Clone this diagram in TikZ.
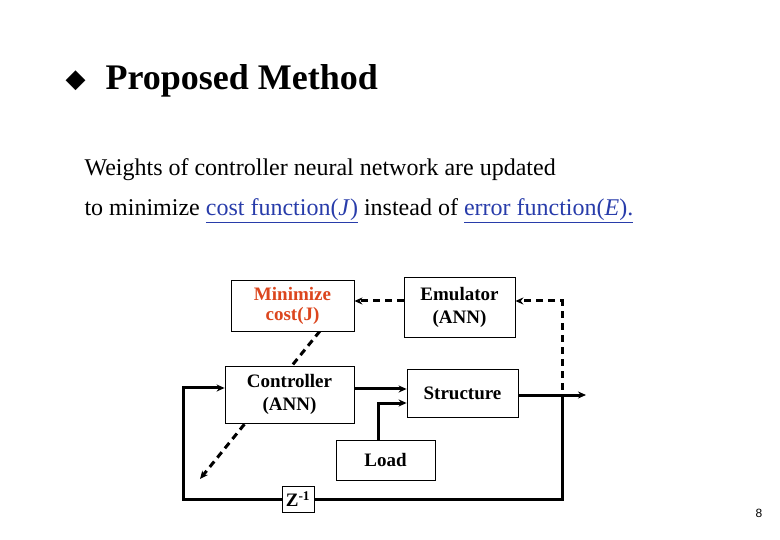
\documentclass[tikz,border=0pt]{standalone}
\usepackage{fontspec}
\setmainfont{Liberation Serif}
\newfontfamily\djv{DejaVu Sans}
\newfontfamily\lsans{Liberation Sans}
\usetikzlibrary{arrows.meta}
\definecolor{lnk}{RGB}{40,60,170}
\definecolor{org}{RGB}{220,70,30}
\begin{document}
\begin{tikzpicture}[x=1pt,y=-1pt,
  blk/.style={draw,line width=0.8pt,fill=white,font=\bfseries\fontsize{19}{20}\selectfont,align=center,inner sep=0pt},
  sig/.style={line width=3pt,-{Stealth[length=8pt,width=7pt]}},
  dsig/.style={line width=3pt,dash pattern=on 7pt off 5pt,-{Stealth[length=8pt,width=7pt]}},
  txt/.style={anchor=west,font=\fontsize{24}{26}\selectfont}]
\useasboundingbox (0,0) rectangle (780,540);
\node[anchor=west,font=\djv\fontsize{26}{28}\selectfont] (dia) at (62,81) {◆};
\node[anchor=west,font=\bfseries\fontsize{36}{38}\selectfont] (ttl) at (102,81) {Proposed Method};
\node[txt] (l1) at (81,170) {Weights of controller neural network are updated};
\node[txt] (l2) at (81,211) {to minimize \textcolor{lnk}{\underline{cost function(\textit{J})}} instead of \textcolor{lnk}{\underline{error function(\textit{E}).}}};
\coordinate (dstart) at (320,331);
\coordinate (dend) at (200,479);
\draw[dsig] (dstart) -- (dend);
\node[blk,minimum width=123pt,minimum height=51pt,text=org] (min) at (292.5,305.5) {Minimize\\cost(J)};
\node[blk,minimum width=111pt,minimum height=60pt] (emu) at (459.5,307) {Emulator\\[3pt](ANN)};
\node[blk,minimum width=129pt,minimum height=57pt] (ctl) at (289.5,394.5) {Controller\\[3pt](ANN)};
\node[blk,minimum width=111pt,minimum height=48pt] (str) at (462.5,393) {Structure};
\node[blk,minimum width=99pt,minimum height=40pt] (load) at (385.5,460) {Load};
\node[blk,minimum width=32pt,minimum height=26pt] (z) at (298,499) {Z\textsuperscript{-1}};
\coordinate (out) at (586,395);
\coordinate (br) at (562,395);
\draw[sig] (str.east |- out) -- (out);
\draw[line width=3pt] (br) -- (562,499) -- (z.east |- 0,499);
\draw[sig] (z.west |- 0,499) -- (183,499) -- (183,388) -- (ctl.west |- 0,388);
\draw[sig] (ctl.east |- 0,389) -- (str.west |- 0,389);
\draw[sig] (load.north -| 378,0) -- (378,403) -- (str.west |- 0,403);
\draw[dsig] (562,390) -- (562,301) -- (emu.east |- 0,301);
\draw[dsig] (emu.west |- 0,301) -- (min.east |- 0,301);
\node[font=\lsans\fontsize{12}{14}\selectfont] (pg) at (759,513) {8};
\end{tikzpicture}
\end{document}
